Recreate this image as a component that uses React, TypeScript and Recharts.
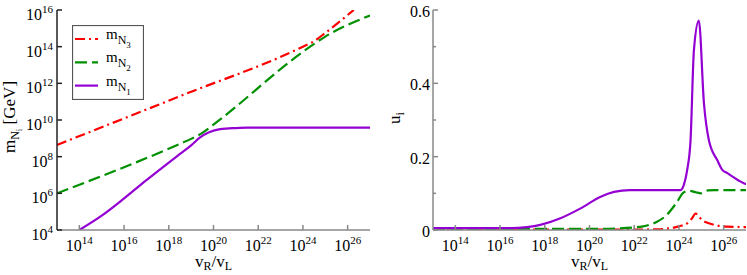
import { LineChart, Line, XAxis, YAxis, Legend } from 'recharts';

const FONT = '"Liberation Serif", "DejaVu Serif", serif';
const RED = '#ff0000';
const GREEN = '#009000';
const PURPLE = '#9400d3';
const DASH_DOT = '10 4 2 4';
const DASHED = '12 5';

// x values are log10(vR/vL)
const decadeTicks = [14, 16, 18, 20, 22, 24, 26];
// left panel: log10(m / GeV)
const massTicks = [4, 6, 8, 10, 12, 14, 16];
// right panel
const mixTicks = [0, 0.1, 0.2, 0.3, 0.4, 0.5, 0.6];
const mixLabels = ['0', '', '0.2', '', '0.4', '', '0.6'];

const massN3 = [
  [13, 8.64], [18.5, 11.3], [24.0, 14.0], [24.5, 14.3], [25.0, 14.75], [26.27, 16.0],
];
const massN2 = [
  [13, 6.0], [18.5, 8.7], [19.0, 8.97], [19.5, 9.3], [20.0, 9.75], [24.0, 13.72],
  [24.5, 14.15], [25.0, 14.55], [27, 15.7],
];
const massN1 = [
  [14, 4.0], [15, 4.78], [16, 5.72], [17, 6.72], [18, 7.68], [18.5, 8.15], [19.0, 8.62],
  [19.4, 9.05], [19.8, 9.33], [20.3, 9.5], [21.0, 9.56], [21.5, 9.58], [27, 9.58],
];

const mixN3 = [
  [13, 0.001], [22, 0.001], [23, 0.002], [23.64, 0.005], [24.0, 0.01], [24.37, 0.018],
  [24.6, 0.033], [24.74, 0.045], [24.9, 0.036], [25.04, 0.027], [25.3, 0.019],
  [25.57, 0.014], [26.17, 0.009], [27, 0.008],
];
const mixN2 = [
  [13, 0.003], [20.5, 0.003], [21.5, 0.005], [22.4, 0.01], [23.0, 0.022], [23.4, 0.038],
  [23.9, 0.075], [24.2, 0.102], [24.45, 0.107], [24.75, 0.103], [25.0, 0.1], [25.3, 0.108],
  [25.6, 0.109], [27, 0.109],
];
const mixN1 = [
  [13, 0.005], [16.5, 0.005], [17.2, 0.008], [17.8, 0.014], [18.7, 0.032], [19.6, 0.059],
  [20.5, 0.091], [21.1, 0.104], [21.8, 0.109], [24.07, 0.109], [24.22, 0.123], [24.37, 0.164],
  [24.52, 0.245], [24.67, 0.49], [24.89, 0.571], [25.12, 0.345], [25.34, 0.245],
  [25.72, 0.19], [25.94, 0.164], [26.17, 0.155], [26.76, 0.132], [27, 0.125],
];

const legendItems = [
  { sub: '3', color: RED, dash: DASH_DOT },
  { sub: '2', color: GREEN, dash: DASHED },
  { sub: '1', color: PURPLE, dash: undefined },
];

const rows = (pts: number[][]) => pts.map(([x, y]) => ({ x, y }));

function PowerBottomTick({ x, y, payload }: any) {
  return (
    <g>
      <line x1={x} y1={y} x2={x} y2={y - 5} stroke="#888" strokeWidth={1.5} />
      <text x={x} y={y + 21} textAnchor="middle" fontFamily={FONT} fontSize={16} fill="#000">
        10<tspan fontSize={11} dy={-7}>{payload.value}</tspan>
      </text>
    </g>
  );
}

function PowerLeftTick({ x, y, payload }: any) {
  return (
    <g>
      <line x1={x} y1={y} x2={x + 5} y2={y} stroke="#222" strokeWidth={1.5} />
      <text x={x - 4} y={y + 10} textAnchor="end" fontFamily={FONT} fontSize={16} fill="#000">
        10<tspan fontSize={11} dy={-7}>{payload.value}</tspan>
      </text>
    </g>
  );
}

function MixLeftTick({ x, y, index }: any) {
  const major = index % 2 === 0;
  return (
    <g>
      <line x1={x} y1={y} x2={x + (major ? 5 : 3)} y2={y} stroke="#888" strokeWidth={1.5} />
      {major && (
        <text x={x - 3} y={y + 7} textAnchor="end" fontFamily={FONT} fontSize={16} fill="#000">
          {mixLabels[index]}
        </text>
      )}
    </g>
  );
}

function TopTick({ x, y }: any) {
  return <line x1={x} y1={y} x2={x} y2={y + 5} stroke="#222" strokeWidth={1.5} />;
}

function RightTick({ x, y }: any) {
  return <line x1={x} y1={y} x2={x - 5} y2={y} stroke="#888" strokeWidth={1.5} />;
}

function RightMinorTick({ x, y, index }: any) {
  const major = index % 2 === 0;
  return <line x1={x} y1={y} x2={x - (major ? 5 : 3)} y2={y} stroke="#888" strokeWidth={1.5} />;
}

function RatioTitle({ cx }: { cx: number }) {
  return (
    <text x={cx} y={267} textAnchor="middle" fontFamily={FONT} fontSize={17} fill="#000">
      v<tspan fontSize={12} dy={3}>R</tspan>
      <tspan dy={-3}>/v</tspan>
      <tspan fontSize={12} dy={3}>L</tspan>
    </text>
  );
}

function MassLegend() {
  return (
    <svg width={72} height={75} style={{ display: 'block' }}>
      <rect x={0.5} y={0.5} width={71} height={74} fill="#fff" stroke="#555" strokeWidth={1.2} />
      {legendItems.map((it, i) => {
        const ly = 14 + i * 23.3;
        return (
          <g key={it.sub}>
            <line x1={3} y1={ly} x2={26} y2={ly} stroke={it.color} strokeWidth={2.2}
              strokeDasharray={it.dash} />
            <text x={34} y={ly} fontFamily={FONT} fontSize={15} fill="#000">
              m<tspan fontSize={12} dy={5}>N</tspan>
              <tspan fontSize={9} dy={4}>{it.sub}</tspan>
            </text>
          </g>
        );
      })}
    </svg>
  );
}

export default function App() {
  return (
    <div style={{ position: 'absolute', left: 0, top: 0, width: 747, height: 275, background: '#fff', display: 'flex' }}>
      <LineChart width={380} height={275} margin={{ top: 10, right: 10, bottom: 0, left: 0 }}>
        <XAxis xAxisId="b" dataKey="x" type="number" domain={[13, 27]} allowDataOverflow ticks={decadeTicks}
          interval={0} height={45} tickSize={0} tickMargin={0} tickLine={false}
          axisLine={{ stroke: '#888', strokeWidth: 1.5 }} tick={(p: any) => <PowerBottomTick {...p} />} />
        <XAxis xAxisId="t" orientation="top" dataKey="x" type="number" domain={[13, 27]} allowDataOverflow
          ticks={decadeTicks} interval={0} height={0} tickSize={0} tickMargin={0} tickLine={false}
          axisLine={{ stroke: '#222', strokeWidth: 1.5 }} tick={(p: any) => <TopTick {...p} />} />
        <YAxis yAxisId="l" type="number" domain={[4, 16]} allowDataOverflow ticks={massTicks} interval={0}
          width={57} tickSize={0} tickMargin={0} tickLine={false}
          axisLine={{ stroke: '#222', strokeWidth: 1.5 }} tick={(p: any) => <PowerLeftTick {...p} />} />
        <YAxis yAxisId="r" orientation="right" type="number" domain={[4, 16]} allowDataOverflow ticks={massTicks}
          interval={0} width={0} tickSize={0} tickMargin={0} tickLine={false}
          axisLine={{ stroke: '#888', strokeWidth: 1.5 }} tick={(p: any) => <RightTick {...p} />} />
        <Line data={rows(massN3)} dataKey="y" xAxisId="b" yAxisId="l" type="monotone" stroke={RED}
          strokeWidth={2.2} strokeDasharray={DASH_DOT} dot={false} isAnimationActive={false} />
        <Line data={rows(massN2)} dataKey="y" xAxisId="b" yAxisId="l" type="monotone" stroke={GREEN}
          strokeWidth={2.2} strokeDasharray={DASHED} dot={false} isAnimationActive={false} />
        <Line data={rows(massN1)} dataKey="y" xAxisId="b" yAxisId="l" type="monotone" stroke={PURPLE}
          strokeWidth={2.2} dot={false} isAnimationActive={false} />
        <Legend layout="vertical" align="center" verticalAlign="middle"
          wrapperStyle={{ left: 72, top: 25, width: 72, height: 75 }} content={() => <MassLegend />} />
        <RatioTitle cx={213.5} />
        <text transform="translate(15,117) rotate(-90)" textAnchor="middle" fontFamily={FONT} fontSize={17} fill="#000">
          m<tspan fontSize={12} dy={4}>N</tspan>
          <tspan fontSize={9} dy={3}>i</tspan>
          <tspan fontSize={17} dy={-7}> [GeV]</tspan>
        </text>
      </LineChart>

      <LineChart width={367} height={275} margin={{ top: 10, right: 1, bottom: 0, left: 0 }}>
        <XAxis xAxisId="b" dataKey="x" type="number" domain={[13, 27]} allowDataOverflow ticks={decadeTicks}
          interval={0} height={45} tickSize={0} tickMargin={0} tickLine={false}
          axisLine={{ stroke: '#888', strokeWidth: 1.5 }} tick={(p: any) => <PowerBottomTick {...p} />} />
        <XAxis xAxisId="t" orientation="top" dataKey="x" type="number" domain={[13, 27]} allowDataOverflow
          ticks={decadeTicks} interval={0} height={0} tickSize={0} tickMargin={0} tickLine={false}
          axisLine={{ stroke: '#222', strokeWidth: 1.5 }} tick={(p: any) => <TopTick {...p} />} />
        <YAxis yAxisId="l" type="number" domain={[0, 0.6]} allowDataOverflow ticks={mixTicks} interval={0}
          width={53} tickSize={0} tickMargin={0} tickLine={false}
          axisLine={{ stroke: '#888', strokeWidth: 1.5 }} tick={(p: any) => <MixLeftTick {...p} />} />
        <YAxis yAxisId="r" orientation="right" type="number" domain={[0, 0.6]} allowDataOverflow ticks={mixTicks}
          interval={0} width={0} tickSize={0} tickMargin={0} tickLine={false}
          axisLine={{ stroke: '#888', strokeWidth: 1.5 }} tick={(p: any) => <RightMinorTick {...p} />} />
        <Line data={rows(mixN3)} dataKey="y" xAxisId="b" yAxisId="l" type="monotone" stroke={RED}
          strokeWidth={2.2} strokeDasharray={DASH_DOT} dot={false} isAnimationActive={false} />
        <Line data={rows(mixN2)} dataKey="y" xAxisId="b" yAxisId="l" type="monotone" stroke={GREEN}
          strokeWidth={2.2} strokeDasharray={DASHED} dot={false} isAnimationActive={false} />
        <Line data={rows(mixN1)} dataKey="y" xAxisId="b" yAxisId="l" type="monotone" stroke={PURPLE}
          strokeWidth={2.2} dot={false} isAnimationActive={false} />
        <RatioTitle cx={209.5} />
        <text transform="translate(20,118) rotate(-90)" textAnchor="middle" fontFamily={FONT} fontSize={17} fill="#000">
          u<tspan fontSize={12} dy={4}>i</tspan>
        </text>
      </LineChart>
    </div>
  );
}
